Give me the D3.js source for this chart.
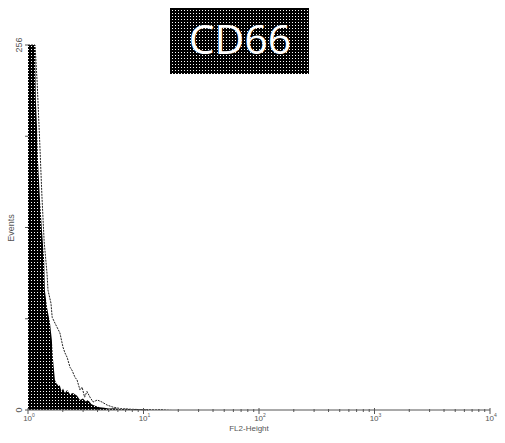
<!DOCTYPE html>
<html>
<head>
<meta charset="utf-8">
<script src="https://cdn.jsdelivr.net/npm/d3@7"></script>
<style>
  body { margin: 0; background: #fff; }
  text { font-family: Arial, "Liberation Sans", sans-serif; fill: #555; }
</style>
</head>
<body>
<div id="chart"></div>
<script>
// control (filled) histogram: FL2 value, events
var controlFL2 = [1.00, 1.15, 1.17, 1.20, 1.22, 1.27, 1.32, 1.38, 1.40, 1.46, 1.55, 1.61, 1.64, 1.71, 1.78, 1.89, 1.95, 2.01, 2.09, 2.18, 2.31, 2.45, 2.66, 2.82, 2.99, 3.16, 3.31, 3.55, 3.80, 4.17, 4.57, 5.01, 5.62, 6.31, 7.08, 7.94, 8.91, 10.0, 11.2, 12.6, 14.1, 15.8, 17.8];
var controlEvents = [256, 256, 217, 196, 175, 147, 126, 105, 84, 72, 61, 49, 37, 21, 18, 17, 13, 15, 12, 14, 11, 12, 10, 7, 8, 6, 7, 4, 3, 2, 1.5, 1, 1.2, 0.6, 0.9, 0.5, 0.7, 0.4, 0.6, 0.3, 0.5, 0.2, 0];

// CD66 stained (outline) histogram
var cd66FL2 = [1.00, 1.15, 1.20, 1.26, 1.32, 1.38, 1.46, 1.49, 1.58, 1.62, 1.71, 1.89, 2.01, 2.09, 2.18, 2.31, 2.40, 2.55, 2.66, 2.82, 2.94, 3.09, 3.24, 3.44, 3.66, 3.98, 4.37, 4.83, 5.44, 6.31, 7.5, 9.3, 11];
var cd66Events = [256, 256, 230, 190, 150, 118, 96, 84, 75, 65, 61, 54, 44, 40, 37, 30, 28, 23, 21, 14, 16, 9, 13, 9, 5.6, 7, 5.6, 3.5, 2, 1, 0.6, 0.3, 0];

var xTickValues = [1, 10, 100, 1000, 10000];
var xTickExp = ["0", "1", "2", "3", "4"];
var yTickValues = [0, 64, 128, 192, 256];
var yTickLabels = ["0", "", "", "", "256"];

var width = 505, height = 443;

var svg = d3.select("#chart").append("svg")
  .attr("width", width)
  .attr("height", height);

// halftone pattern (black with white dots)
var defs = svg.append("defs");
var pat = defs.append("pattern")
  .attr("id", "dots")
  .attr("width", 3)
  .attr("height", 3)
  .attr("patternUnits", "userSpaceOnUse");
pat.append("rect").attr("width", 3).attr("height", 3).attr("fill", "#000");
pat.append("rect").attr("x", 1).attr("y", 1).attr("width", 1).attr("height", 1).attr("fill", "#fff");

var x = d3.scaleLog().domain([1, 10000]).range([28, 490]);
var y = d3.scaleLinear().domain([0, 256]).range([410, 45]).clamp(true);

// title box
svg.append("rect")
  .attr("x", 170).attr("y", 8)
  .attr("width", 139).attr("height", 66)
  .attr("fill", "url(#dots)");
svg.append("text")
  .attr("x", 240).attr("y", 54)
  .attr("text-anchor", "middle")
  .style("font-family", "'Open Sans', sans-serif")
  .style("font-size", "41px")
  .style("fill", "#fff")
  .text("CD66");

// filled control histogram
var control = controlFL2.map(function (v, i) { return { x: v, y: controlEvents[i] }; });
var area = d3.area()
  .x(function (d) { return x(d.x); })
  .y0(y(0))
  .y1(function (d) { return y(d.y); });
svg.append("path")
  .datum(control)
  .attr("d", area)
  .attr("fill", "url(#dots)");

// CD66 outline
var cd66 = cd66FL2.map(function (v, i) { return { x: v, y: cd66Events[i] }; });
var line = d3.line()
  .x(function (d) { return x(d.x); })
  .y(function (d) { return y(d.y); });
svg.append("path")
  .datum(cd66)
  .attr("d", line)
  .attr("fill", "none")
  .attr("stroke", "#222")
  .attr("stroke-width", 1)
  .attr("stroke-dasharray", "2,1");

// x axis with log minor ticks
var minor = [];
for (var k = 0; k < 4; k++) {
  for (var m = 2; m < 10; m++) minor.push(m * Math.pow(10, k));
}
var xAxis = svg.append("g").attr("transform", "translate(0,410)");
xAxis.append("line")
  .attr("x1", x(1)).attr("x2", x(10000))
  .attr("stroke", "#555").attr("stroke-width", 1);
xAxis.selectAll(".minor").data(minor).enter().append("line")
  .attr("class", "minor")
  .attr("x1", function (d) { return x(d); }).attr("x2", function (d) { return x(d); })
  .attr("y1", -1).attr("y2", 2)
  .attr("stroke", "#555");
xAxis.selectAll(".major").data(xTickValues).enter().append("line")
  .attr("class", "major")
  .attr("x1", function (d) { return x(d); }).attr("x2", function (d) { return x(d); })
  .attr("y1", -2).attr("y2", 4)
  .attr("stroke", "#555");
var xl = xAxis.selectAll(".lbl").data(xTickValues).enter().append("text")
  .attr("x", function (d) { return x(d) + 1; })
  .attr("y", 11)
  .attr("text-anchor", "middle")
  .style("font-size", "8px");
xl.append("tspan").text("10");
xl.append("tspan")
  .attr("dy", -4)
  .style("font-size", "5px")
  .text(function (d, i) { return xTickExp[i]; });

// y axis ticks
var yAxis = svg.append("g");
yAxis.selectAll("line").data(yTickValues).enter().append("line")
  .attr("x1", 25).attr("x2", 28)
  .attr("y1", function (d) { return y(d); }).attr("y2", function (d) { return y(d); })
  .attr("stroke", "#555");
yAxis.selectAll("text").data(yTickValues).enter().append("text")
  .attr("transform", function (d) { return "translate(22," + y(d) + ") rotate(-90)"; })
  .attr("text-anchor", "middle")
  .style("font-size", "9px")
  .text(function (d, i) { return yTickLabels[i]; });

// axis titles
svg.append("text")
  .attr("transform", "translate(14,228) rotate(-90)")
  .attr("text-anchor", "middle")
  .style("font-size", "9px")
  .text("Events");
svg.append("text")
  .attr("x", 249).attr("y", 431)
  .attr("text-anchor", "middle")
  .style("font-size", "8px")
  .text("FL2-Height");
</script>
</body>
</html>
